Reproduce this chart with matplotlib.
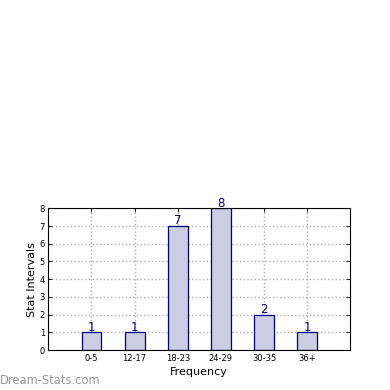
import matplotlib
matplotlib.use("Agg")
import matplotlib.pyplot as plt

categories = ["0-5", "12-17", "18-23", "24-29", "30-35", "36+"]
values = [1, 1, 7, 8, 2, 1]
yticks = [0, 1, 2, 3, 4, 5, 6, 7, 8]

fig = plt.figure(figsize=(3.9, 3.9), dpi=100)
ax = fig.add_axes([0.124, 0.102, 0.774, 0.364])
x = list(range(len(categories)))
bars = ax.bar(x, values, width=0.46, color="#ccccE3", edgecolor="#000080", linewidth=0.9, zorder=2)
for xi, v in zip(x, values):
    ax.text(xi, v - 0.08, str(v), ha="center", va="bottom", color="#000080", fontsize=8.5, zorder=3)
ax.set_xlim(-1, 6)
ax.set_ylim(0, 8)
ax.set_yticks(yticks)
ax.set_xticks(x)
ax.set_xticklabels(categories, fontsize=6)
ax.tick_params(axis="y", labelsize=6)
ax.tick_params(direction="in", length=3, width=0.6, top=True, right=True, pad=2.5)
ax.grid(True, linestyle=":", color="#b0b0b0", linewidth=1.0, zorder=0)
ax.set_axisbelow(True)
for s in ax.spines.values():
    s.set_linewidth(0.8)
ax.set_xlabel("Frequency", fontsize=8, labelpad=3)
ax.set_ylabel("Stat Intervals", fontsize=8, labelpad=2)
fig.text(0.0, 0.025, "Dream-Stats.com", fontsize=8.3, color="#999999", ha="left", va="center")
fig.savefig("out.png", dpi=100)
